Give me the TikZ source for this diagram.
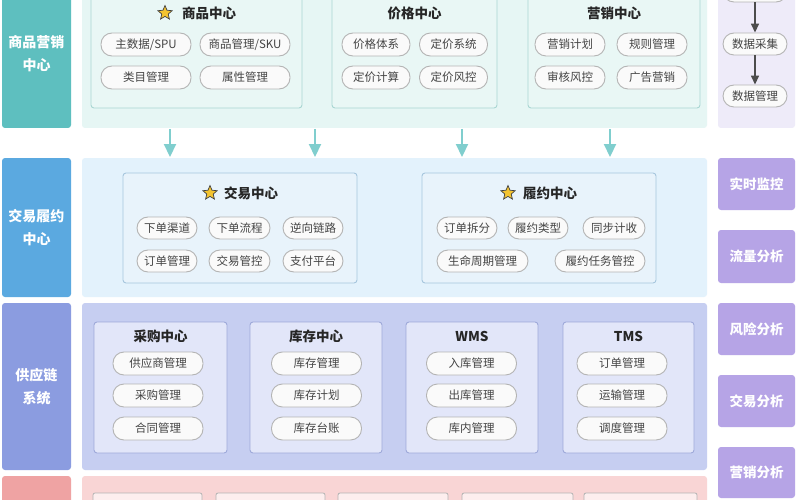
\documentclass[tikz,border=0pt]{standalone}
\usepackage{fontspec}
\setmainfont{Noto Sans CJK SC}
\usetikzlibrary{shapes.geometric,arrows.meta}
\definecolor{tealL}{HTML}{5EBFBF}
\definecolor{tealP}{HTML}{E6F6F4}
\definecolor{tealB}{HTML}{A9D6D2}
\definecolor{tealIn}{HTML}{E9F7F5}
\definecolor{blueL}{HTML}{5BA9E0}
\definecolor{blueP}{HTML}{E3F2FC}
\definecolor{blueB}{HTML}{A6C6DD}
\definecolor{blueIn}{HTML}{E8F3FB}
\definecolor{periL}{HTML}{8B9CE0}
\definecolor{periP}{HTML}{C6CEF1}
\definecolor{periB}{HTML}{9EA9D9}
\definecolor{periIn}{HTML}{E2E6F9}
\definecolor{pinkL}{HTML}{EFA3A3}
\definecolor{pinkP}{HTML}{F9D5D5}
\definecolor{purpP}{HTML}{EEEBF9}
\definecolor{purpB}{HTML}{B6A4E6}
\definecolor{pillB}{HTML}{B4B4B4}
\definecolor{pillF}{HTML}{FAFAFA}
\definecolor{arrowT}{HTML}{80CECE}
\definecolor{txtG}{HTML}{444444}
\definecolor{starY}{HTML}{F4C430}
\tikzset{
  lab/.style={fill=#1, rounded corners=3pt, text=white, font=\fontsize{14}{23}\selectfont\bfseries, align=center, inner sep=0pt},
  panel/.style={fill=#1, rounded corners=3pt, inner sep=0pt},
  inbox/.style={draw=#1, line width=0.9pt, rounded corners=3pt, inner sep=0pt},
  pill/.style={draw=pillB, fill=pillF, line width=0.9pt, rounded corners=11pt, minimum height=23pt, inner sep=0pt, text=txtG, font=\fontsize{11.5}{13}\selectfont},
  ttl/.style={font=\fontsize{13.5}{16}\selectfont\bfseries, text=black!85, inner sep=0pt},
  anal/.style={fill=purpB, rounded corners=3pt, minimum width=77pt, inner sep=0pt, text=white, font=\fontsize{13.5}{16}\selectfont\bfseries},
  staric/.style={star, star points=5, star point ratio=2.2, fill=starY, draw=black!75, line width=0.7pt, minimum size=15pt, inner sep=0pt},
  tarrow/.style={draw=arrowT, line width=2.2pt, -{Triangle[width=12pt,length=13pt]}},
  darrow/.style={draw=black!70, line width=1.5pt, -{Triangle[width=8pt,length=9pt]}},
  lowbox/.style={draw=pillB, fill=white!60!pinkP, line width=0.8pt, rounded corners=2pt, minimum height=30pt, inner sep=0pt}
}
\begin{document}
\begin{tikzpicture}[x=1pt,y=-1pt]
\useasboundingbox (0,0) rectangle (800,500);
\clip (0,0) rectangle (800,500);
\fill[white] (0,0) rectangle (800,500);

% ---------- left labels ----------
\node[lab=tealL, minimum width=69pt, minimum height=148pt] (l1) at (36.5,54) {商品营销\\中心};
\node[lab=blueL, minimum width=69pt, minimum height=139pt] (l2) at (36.5,227.5) {交易履约\\中心};
\node[lab=periL, minimum width=69pt, minimum height=167pt] (l3) at (36.5,386.5) {供应链\\系统};
\node[lab=pinkL, minimum width=69pt, minimum height=50pt] (l4) at (36.5,501) {};

% ---------- panels ----------
\node[panel=tealP, minimum width=625pt, minimum height=148pt] (p1) at (394.5,54) {};
\node[panel=blueP, minimum width=625pt, minimum height=139pt] (p2) at (394.5,227.5) {};
\node[panel=periP, minimum width=625pt, minimum height=167pt] (p3) at (394.5,386.5) {};
\node[panel=pinkP, minimum width=625pt, minimum height=50pt] (p4) at (394.5,501) {};

% ---------- row 1 ----------
\node[inbox=tealB, fill=tealIn, minimum width=211pt, minimum height=128pt] (b11) at (196.5,44) {};
\node[inbox=tealB, fill=tealIn, minimum width=165pt, minimum height=128pt] (b12) at (414.5,44) {};
\node[inbox=tealB, fill=tealIn, minimum width=172pt, minimum height=128pt] (b13) at (614,44) {};
\node[staric] (s11) at (165,13) {};
\node[ttl] (t11) at (209,13) {商品中心};
\node[ttl] (t12) at (414.5,13) {价格中心};
\node[ttl] (t13) at (614,13) {营销中心};
\node[pill, minimum width=90pt] (q111) at (146,44.5) {主数据/SPU};
\node[pill, minimum width=90pt] (q112) at (245,44.5) {商品管理/SKU};
\node[pill, minimum width=90pt] (q113) at (146,77.5) {类目管理};
\node[pill, minimum width=90pt] (q114) at (245,77.5) {属性管理};
\node[pill, minimum width=68pt] (q121) at (376,44.5) {价格体系};
\node[pill, minimum width=68pt] (q122) at (453.5,44.5) {定价系统};
\node[pill, minimum width=68pt] (q123) at (376,77.5) {定价计算};
\node[pill, minimum width=68pt] (q124) at (453.5,77.5) {定价风控};
\node[pill, minimum width=70pt] (q131) at (570,44.5) {营销计划};
\node[pill, minimum width=70pt] (q132) at (652,44.5) {规则管理};
\node[pill, minimum width=70pt] (q133) at (570,77.5) {审核风控};
\node[pill, minimum width=70pt] (q134) at (652,77.5) {广告营销};

% ---------- arrows between row 1 and row 2 ----------
\foreach \i/\x in {1/170,2/315,3/462,4/610}{
  \coordinate (as\i) at (\x,129);
  \coordinate (ae\i) at (\x,157);
  \draw[tarrow] (as\i) -- (ae\i);
}

% ---------- row 2 ----------
\node[inbox=blueB, fill=blueIn, minimum width=234pt, minimum height=110pt] (b21) at (240,228) {};
\node[inbox=blueB, fill=blueIn, minimum width=234pt, minimum height=110pt] (b22) at (539,228) {};
\node[staric] (s21) at (210,193) {};
\node[ttl] (t21) at (251,193) {交易中心};
\node[staric] (s22) at (508,193) {};
\node[ttl] (t22) at (550,193) {履约中心};
\node[pill, minimum width=60pt, minimum height=22pt] (q211) at (167,228) {下单渠道};
\node[pill, minimum width=61pt, minimum height=22pt] (q212) at (239.5,228) {下单流程};
\node[pill, minimum width=60pt, minimum height=22pt] (q213) at (313,228) {逆向链路};
\node[pill, minimum width=60pt, minimum height=22pt] (q214) at (167,261) {订单管理};
\node[pill, minimum width=61pt, minimum height=22pt] (q215) at (239.5,261) {交易管控};
\node[pill, minimum width=60pt, minimum height=22pt] (q216) at (313,261) {支付平台};
\node[pill, minimum width=60pt, minimum height=22pt] (q221) at (467,228) {订单拆分};
\node[pill, minimum width=60pt, minimum height=22pt] (q222) at (538,228) {履约类型};
\node[pill, minimum width=62pt, minimum height=22pt] (q223) at (614,228) {同步计收};
\node[pill, minimum width=91pt, minimum height=22pt] (q224) at (482.5,261) {生命周期管理};
\node[pill, minimum width=90pt, minimum height=22pt] (q225) at (600,261) {履约任务管控};

% ---------- row 3 ----------
\node[inbox=periB, fill=periIn, minimum width=133pt, minimum height=131pt] (b31) at (160.5,387.5) {};
\node[inbox=periB, fill=periIn, minimum width=132pt, minimum height=131pt] (b32) at (316,387.5) {};
\node[inbox=periB, fill=periIn, minimum width=132pt, minimum height=131pt] (b33) at (472,387.5) {};
\node[inbox=periB, fill=periIn, minimum width=131pt, minimum height=131pt] (b34) at (628.5,387.5) {};
\node[ttl] (t31) at (160.5,336) {采购中心};
\node[ttl] (t32) at (316,336) {库存中心};
\node[ttl] (t33) at (472,336) {WMS};
\node[ttl] (t34) at (628.5,336) {TMS};
\foreach \n/\x/\a/\b/\c in {1/158/供应商管理/采购管理/合同管理, 2/316.5/库存管理/库存计划/库存台账, 3/471.5/入库管理/出库管理/库内管理, 4/622/订单管理/运输管理/调度管理}{
  \node[pill, minimum width=90pt] (q3\n a) at (\x,363.5) {\a};
  \node[pill, minimum width=90pt] (q3\n b) at (\x,395.5) {\b};
  \node[pill, minimum width=90pt] (q3\n c) at (\x,428.5) {\c};
}

% ---------- row 4 ----------
\node[lowbox, minimum width=109pt] (r41) at (147.5,508) {};
\node[lowbox, minimum width=109pt] (r42) at (270.5,508) {};
\node[lowbox, minimum width=110pt] (r43) at (393,508) {};
\node[lowbox, minimum width=111pt] (r44) at (517.5,508) {};
\node[lowbox, minimum width=113pt] (r45) at (640.5,508) {};

% ---------- right column ----------
\node[panel=purpP, minimum width=77pt, minimum height=148pt] (rp) at (756.5,54) {};
\node[pill, minimum width=64pt, minimum height=22pt] (d0) at (755,-9) {};
\node[pill, minimum width=64pt, minimum height=22pt] (d1) at (755,44) {数据采集};
\node[pill, minimum width=64pt, minimum height=22pt] (d2) at (755,96) {数据管理};
\draw[darrow] (d0) -- (d1);
\draw[darrow] (d1) -- (d2);
\node[anal, minimum height=52pt] (m1) at (756.5,184) {实时监控};
\node[anal, minimum height=53pt] (m2) at (756.5,256.5) {流量分析};
\node[anal, minimum height=52pt] (m3) at (756.5,329) {风险分析};
\node[anal, minimum height=52pt] (m4) at (756.5,401) {交易分析};
\node[anal, minimum height=51pt] (m5) at (756.5,472.5) {营销分析};
\end{tikzpicture}
\end{document}
